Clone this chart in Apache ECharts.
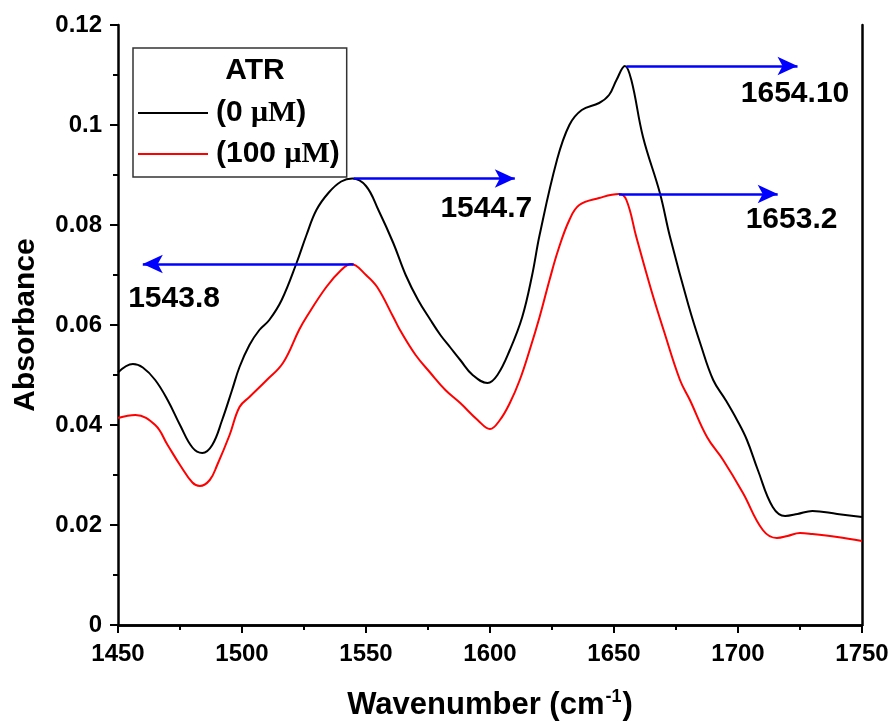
<!DOCTYPE html>
<html>
<head>
    <meta charset="utf-8">
    <script src="https://cdn.jsdelivr.net/npm/echarts@6/dist/echarts.min.js"></script>
    <style>
        body { margin: 0; background: #fff; }
        #main { width: 894px; height: 722px; }
    </style>
</head>
<body>
    <div id="main"></div>
</body>
<script>
    // 0 uM spectrum
    var wnBlack = [1450, 1456, 1460, 1465, 1470, 1475, 1480, 1484, 1488, 1492, 1496, 1499, 1503, 1507, 1511, 1516,
        1522, 1526, 1530, 1535, 1540, 1544.5, 1550, 1555, 1561, 1566, 1571, 1576, 1580, 1584, 1588, 1593, 1599,
        1603, 1608, 1613, 1617, 1620, 1627, 1632, 1637, 1644, 1648, 1651, 1654.4, 1657, 1661.7, 1668.5, 1672.6, 1680,
        1685, 1690, 1695, 1699.6, 1703.6, 1708, 1714, 1719, 1724, 1730, 1740, 1750];
    var absBlack = [0.0505, 0.0522, 0.0515, 0.049, 0.045, 0.040, 0.0355, 0.0344, 0.036, 0.041, 0.047, 0.0516, 0.056,
        0.059, 0.061, 0.065, 0.0724, 0.078, 0.083, 0.0865, 0.0887, 0.0893, 0.0878, 0.083, 0.0764, 0.070, 0.065,
        0.061, 0.058, 0.0555, 0.053, 0.050, 0.0484, 0.050, 0.055, 0.0616, 0.070, 0.078, 0.093, 0.100, 0.103, 0.1044,
        0.106, 0.109, 0.1118, 0.109, 0.0976, 0.0864, 0.0776, 0.064, 0.056, 0.049, 0.045, 0.041, 0.037, 0.031,
        0.0236, 0.0218, 0.0222, 0.0228, 0.0222, 0.0216];

    // 100 uM spectrum
    var wnRed = [1450, 1457, 1465, 1470, 1475, 1480, 1483, 1487, 1490, 1495, 1499, 1503, 1510, 1516.5, 1523, 1526,
        1534, 1540, 1544, 1550, 1554.5, 1561, 1563.7, 1570, 1576, 1582, 1588, 1595, 1600, 1604, 1608, 1612, 1616,
        1620, 1624, 1627.5, 1632, 1636, 1644, 1652, 1655, 1659, 1665, 1670, 1676.6, 1680.6, 1687.5, 1694, 1702, 1710,
        1715.7, 1720, 1725, 1730, 1740, 1750];
    var absRed = [0.0414, 0.042, 0.040, 0.036, 0.032, 0.0285, 0.0278, 0.029, 0.032, 0.038, 0.0436, 0.0456, 0.049,
        0.0524, 0.059, 0.0616, 0.0676, 0.071, 0.0722, 0.070, 0.0676, 0.0616, 0.059, 0.054, 0.0504, 0.047, 0.0444,
        0.041, 0.0392, 0.041, 0.0444, 0.049, 0.055, 0.0616, 0.069, 0.075, 0.081, 0.084, 0.0854, 0.0862, 0.085, 0.0776,
        0.067, 0.059, 0.049, 0.045, 0.0376, 0.033, 0.0264, 0.019, 0.0174, 0.0178, 0.0184, 0.0182, 0.0176, 0.0168];

    // peak annotations: arrow from -> to, text centred at labelAt
    var peakText = ['1544.7', '1543.8', '1654.10', '1653.2'];
    var arrowFrom = [[1545, 0.0893], [1545, 0.0722], [1655, 0.1118], [1652, 0.0862]];
    var arrowTo = [[1610, 0.0893], [1460, 0.0722], [1724, 0.1118], [1716, 0.0862]];
    var labelAt = [[1598.5, 0.0832], [1472.6, 0.0652], [1723, 0.1062], [1721.6, 0.0810]];

    function zip(xs, ys) {
        return xs.map(function (x, i) { return [x, ys[i]]; });
    }

    var font = '"Liberation Sans", Arial, sans-serif';
    var serif = '"Liberation Serif", "Times New Roman", serif';

    var arrows = peakText.map(function (t, i) {
        return [{ coord: arrowFrom[i] }, { coord: arrowTo[i] }];
    });
    var labels = peakText.map(function (t, i) {
        return { coord: labelAt[i], value: t };
    });

    var myChart = echarts.init(document.getElementById('main'));
    myChart.setOption({
        animation: false,
        grid: { left: 118, right: 32, top: 25, bottom: 97, outerBoundsMode: 'none' },
        legend: {
            orient: 'vertical',
            left: 133,
            top: 48,
            padding: [48, 7, 6, 4],
            itemGap: 7,
            itemWidth: 70,
            itemHeight: 14,
            borderColor: '#333',
            borderWidth: 1.5,
            itemStyle: { opacity: 0 },
            formatter: function (name) {
                return '{a|' + name.replace(' μM)', ' ') + '}{b|μM}{a|)}';
            },
            textStyle: {
                lineHeight: 34,
                padding: [0, 0, 0, 3],
                rich: {
                    a: { fontFamily: font, fontWeight: 'bold', fontSize: 30, color: '#000', lineHeight: 34 },
                    b: { fontFamily: serif, fontWeight: 'bold', fontSize: 30, color: '#000', lineHeight: 34 }
                }
            },
            data: ['(0 μM)', '(100 μM)']
        },
        graphic: [{
            type: 'text',
            x: 255,
            y: 71,
            style: { text: 'ATR', font: 'bold 30px ' + font, fill: '#000', align: 'center', verticalAlign: 'middle' }
        }],
        xAxis: [{
            type: 'value',
            min: 1450,
            max: 1750,
            interval: 50,
            name: '{a|Wavenumber (cm}{s|-1}{a|)}',
            nameLocation: 'middle',
            nameGap: 63,
            nameTextStyle: {
                rich: {
                    a: { fontFamily: font, fontWeight: 'bold', fontSize: 31, color: '#000' },
                    s: { fontFamily: font, fontWeight: 'bold', fontSize: 18, color: '#000', verticalAlign: 'top', padding: [0, 1, 16, 1] }
                }
            },
            axisLine: { lineStyle: { color: '#000', width: 2.5 } },
            axisTick: { length: 8, lineStyle: { width: 2, color: '#000' } },
            minorTick: { show: true, splitNumber: 2, length: 5, lineStyle: { width: 2, color: '#000' } },
            splitLine: { show: false },
            axisLabel: {
                margin: 17,
                fontFamily: font, fontWeight: 'bold', fontSize: 24, color: '#000',
                formatter: function (v) { return String(v); }
            }
        }, {
            type: 'value',
            position: 'top',
            min: 1450,
            max: 1750,
            axisLine: { lineStyle: { color: '#000', width: 2.5 } },
            axisTick: { show: false },
            axisLabel: { show: false },
            splitLine: { show: false }
        }],
        yAxis: [{
            type: 'value',
            min: 0,
            max: 0.12,
            interval: 0.02,
            name: 'Absorbance',
            nameLocation: 'middle',
            nameGap: 77,
            nameTextStyle: { fontFamily: font, fontWeight: 'bold', fontSize: 30, color: '#000' },
            axisLine: { show: true, lineStyle: { color: '#000', width: 2.5 } },
            axisTick: { show: true, length: 8, lineStyle: { width: 2, color: '#000' } },
            minorTick: { show: true, splitNumber: 2, length: 5, lineStyle: { width: 2, color: '#000' } },
            splitLine: { show: false },
            axisLabel: { margin: 16, fontFamily: font, fontWeight: 'bold', fontSize: 24, color: '#000' }
        }, {
            type: 'value',
            position: 'right',
            min: 0,
            max: 0.12,
            axisLine: { show: true, lineStyle: { color: '#000', width: 2.5 } },
            axisTick: { show: false },
            axisLabel: { show: false },
            splitLine: { show: false }
        }],
        series: [{
            name: '(0 μM)',
            type: 'line',
            data: zip(wnBlack, absBlack),
            symbol: 'none',
            smooth: 0.4,
            lineStyle: { color: '#000', width: 2 },
            itemStyle: { color: '#000' },
            z: 3
        }, {
            name: '(100 μM)',
            type: 'line',
            data: zip(wnRed, absRed),
            symbol: 'none',
            smooth: 0.4,
            lineStyle: { color: '#ff0000', width: 2 },
            itemStyle: { color: '#ff0000' },
            z: 3,
            markLine: {
                silent: true,
                symbol: ['none', 'arrow'],
                symbolSize: [14, 20],
                label: { show: false },
                lineStyle: { color: '#0000ff', width: 2.5, type: 'solid' },
                data: arrows
            },
            markPoint: {
                silent: true,
                symbol: 'circle',
                symbolSize: 0,
                label: {
                    show: true,
                    position: 'inside',
                    formatter: '{c}',
                    fontFamily: font,
                    fontWeight: 'bold',
                    fontSize: 30,
                    color: '#000'
                },
                data: labels
            }
        }]
    });
</script>
</html>
